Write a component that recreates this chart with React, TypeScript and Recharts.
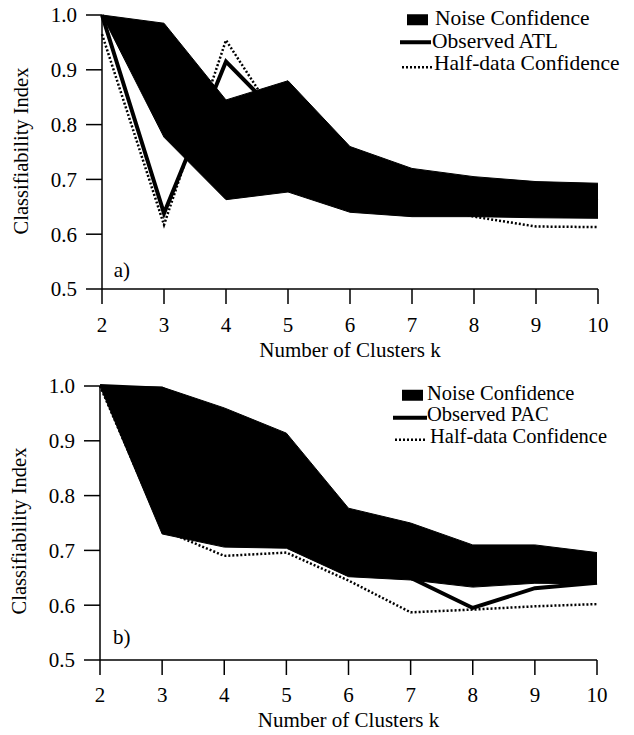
import { Area, ComposedChart, Legend, Line, ReferenceDot, XAxis, YAxis } from "recharts"

const clusters = [2, 3, 4, 5, 6, 7, 8, 9, 10]
const yTicks = [0.5, 0.6, 0.7, 0.8, 0.9, 1.0]

// panel a) ATL
const noiseLowA = [1.0, 0.777, 0.663, 0.677, 0.64, 0.632, 0.632, 0.63, 0.629]
const noiseHighA = [1.0, 0.985, 0.845, 0.88, 0.76, 0.72, 0.705, 0.696, 0.693]
const observedATL = [1.0, 0.638, 0.915, 0.8, 0.7, 0.68, 0.67, 0.665, 0.66]
const halfDataA = [0.965, 0.617, 0.954, 0.78, 0.7, 0.66, 0.632, 0.614, 0.613]

// panel b) PAC
const noiseLowB = [1.0, 0.73, 0.706, 0.704, 0.652, 0.646, 0.633, 0.64, 0.639]
const noiseHighB = [1.0, 0.998, 0.96, 0.914, 0.777, 0.75, 0.71, 0.71, 0.696]
const observedPAC = [1.0, 0.995, 0.93, 0.86, 0.72, 0.65, 0.595, 0.631, 0.641]
const halfDataB = [1.0, 0.738, 0.69, 0.696, 0.645, 0.587, 0.592, 0.598, 0.602]

const font = "'Liberation Serif', 'Times New Roman', serif"

const buildRows = (low: number[], high: number[], observed: number[], half: number[]) =>
  clusters.map((k, i) => ({ k, noise: [low[i], high[i]], observed: observed[i], half: half[i] }))

type LegendItem = { label: string; kind: "box" | "line" | "dots"; offset: number; width: number; gap: number; dy: number }

function makeLegend(items: LegendItem[], rowHeight: number, fontSize: number) {
  return () => (
    <div style={{ fontFamily: font, fontSize, color: "#000" }}>
      {items.map((it) => {
        const mid = rowHeight / 2 + it.dy
        return (
          <div key={it.label} style={{ display: "flex", alignItems: "center", height: rowHeight, whiteSpace: "nowrap" }}>
            <svg width={it.offset + it.width + it.gap} height={rowHeight} style={{ flex: "none" }}>
              {it.kind === "box" && <rect x={it.offset} y={mid - 5.5} width={it.width} height={11} fill="#000" />}
              {it.kind === "line" && (
                <line x1={it.offset} x2={it.offset + it.width} y1={mid} y2={mid} stroke="#000" strokeWidth={4} />
              )}
              {it.kind === "dots" && (
                <line x1={it.offset} x2={it.offset + it.width} y1={mid} y2={mid} stroke="#000" strokeWidth={2.5} strokeDasharray="2 2" />
              )}
            </svg>
            <span style={{ lineHeight: `${rowHeight}px` }}>{it.label}</span>
          </div>
        )
      })}
    </div>
  )
}

type PanelProps = {
  rows: ReturnType<typeof buildRows>
  height: number
  margin: { top: number; right: number; bottom: number; left: number }
  tickMargin: number
  xLabelOffset: number
  yLabelShift: number
  legend: LegendItem[]
  legendTop: number
  legendLeft: number
  rowHeight: number
  legendFont: number
  tag: string
  tagAt: [number, number]
}

function Panel(p: PanelProps) {
  const tick = { fill: "#000", fontSize: 21, fontFamily: font }
  const axisLine = { stroke: "#000", strokeWidth: 1.5 }
  return (
    <ComposedChart width={634} height={p.height} data={p.rows} margin={p.margin}>
      <XAxis
        type="number"
        dataKey="k"
        domain={[2, 10]}
        ticks={clusters}
        interval={0}
        height={70}
        tickSize={15}
        tickMargin={p.tickMargin}
        axisLine={axisLine}
        tickLine={axisLine}
        tick={tick}
        label={({ viewBox }: any) => (
          <text
            x={viewBox.x + viewBox.width / 2}
            y={viewBox.y + viewBox.height - p.xLabelOffset}
            textAnchor="middle"
            fill="#000"
            fontSize={21}
            fontFamily={font}
          >
            Number of Clusters k
          </text>
        )}
      />
      <YAxis
        type="number"
        domain={[0.5, 1]}
        ticks={yTicks}
        interval={0}
        width={60}
        tickSize={16}
        tickMargin={9}
        tickFormatter={(v: number) => v.toFixed(1)}
        axisLine={axisLine}
        tickLine={axisLine}
        tick={tick}
        label={({ viewBox }: any) => {
          const x = viewBox.x + viewBox.width - 74
          const y = viewBox.y + viewBox.height / 2 + p.yLabelShift
          return (
            <text x={x} y={y} transform={`rotate(-90, ${x}, ${y})`} textAnchor="middle" fill="#000" fontSize={20.5} fontFamily={font}>
              Classifiability Index
            </text>
          )
        }}
      />
      <Line type="linear" dataKey="half" stroke="#000" strokeWidth={2.5} strokeDasharray="2 2" dot={false} activeDot={false} isAnimationActive={false} />
      <Line type="linear" dataKey="observed" stroke="#000" strokeWidth={4} dot={false} activeDot={false} isAnimationActive={false} />
      <Area type="linear" dataKey="noise" stroke="#000" strokeWidth={1} fill="#000" fillOpacity={1} dot={false} activeDot={false} isAnimationActive={false} />
      <ReferenceDot
        x={p.tagAt[0]}
        y={p.tagAt[1]}
        r={0}
        fill="none"
        stroke="none"
        label={{ value: p.tag, position: "center", fill: "#000", fontSize: 21, fontFamily: font }}
      />
      <Legend
        layout="horizontal"
        verticalAlign="middle"
        align="center"
        content={makeLegend(p.legend, p.rowHeight, p.legendFont)}
        wrapperStyle={{ top: p.legendTop, left: p.legendLeft, width: 240, height: "auto" }}
      />
    </ComposedChart>
  )
}

const legendA: LegendItem[] = [
  { label: "Noise Confidence", kind: "box", offset: 9, width: 21, gap: 7, dy: 1.5 },
  { label: "Observed ATL", kind: "line", offset: 2, width: 31, gap: 1, dy: 1 },
  { label: "Half-data Confidence", kind: "dots", offset: 4, width: 31, gap: 1, dy: 4 },
]

const legendB: LegendItem[] = [
  { label: "Noise Confidence", kind: "box", offset: 12, width: 21, gap: 4, dy: 1.5 },
  { label: "Observed PAC", kind: "line", offset: 3, width: 34, gap: 0, dy: 3 },
  { label: "Half-data Confidence", kind: "dots", offset: 5, width: 32, gap: 3, dy: 3 },
]

export default function App() {
  return (
    <div style={{ position: "absolute", left: 0, top: 0, width: 634, height: 735, background: "#fff" }}>
      <div style={{ position: "absolute", left: 0, top: 0 }}>
        <Panel
          rows={buildRows(noiseLowA, noiseHighA, observedATL, halfDataA)}
          height={370}
          margin={{ top: 15, right: 36, bottom: 11, left: 42 }}
          tickMargin={13.5}
          xLabelOffset={2}
          yLabelShift={-1}
          legend={legendA}
          legendTop={7}
          legendLeft={398}
          rowHeight={22.5}
          legendFont={21.5}
          tag="a)"
          tagAt={[2.32, 0.535]}
        />
      </div>
      <div style={{ position: "absolute", left: 0, top: 370 }}>
        <Panel
          rows={buildRows(noiseLowB, noiseHighB, observedPAC, halfDataB)}
          height={365}
          margin={{ top: 16, right: 37, bottom: 5, left: 40 }}
          tickMargin={12.5}
          xLabelOffset={3}
          yLabelShift={8}
          legend={legendB}
          legendTop={12.5}
          legendLeft={390}
          rowHeight={21.5}
          legendFont={20.5}
          tag="b)"
          tagAt={[2.35, 0.542]}
        />
      </div>
    </div>
  )
}
